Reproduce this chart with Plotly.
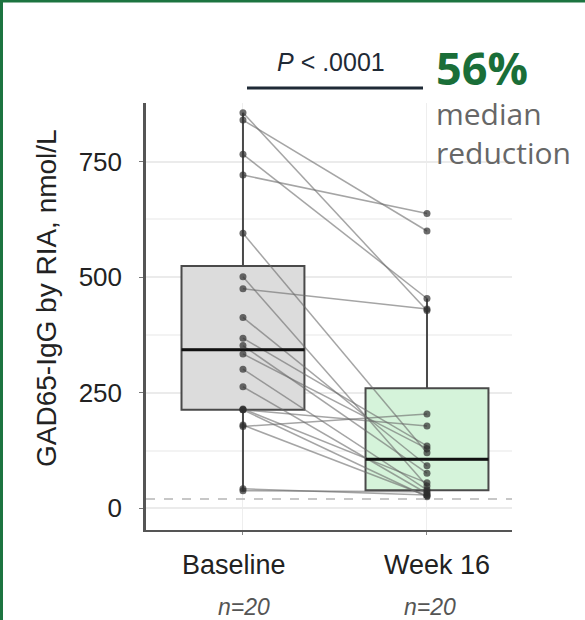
import numpy as np
import plotly.graph_objects as go

# GAD65-IgG (nmol/L) per participant, paired by index
visits = ["Baseline", "Week 16"]
baseline = [856, 840, 766, 721, 595, 501, 475, 413, 368, 352,
            215, 334, 301, 263, 213, 213, 177, 180, 42, 38]
week16 = [428, 600, 454, 638, 120, 48, 431, 92, 135, 76,
          55, 129, 40, 32, 178, 25, 204, 27, 29, 36]
n_labels = ["n=20", "n=20"]
y_ticks = [0, 250, 500, 750]
y_minor = [125, 375, 625]
lower_limit = 20          # assay threshold (dashed line)
p_text = "<i>P</i> < .0001"
headline = "56%"
headline_sub = "median<br>reduction"

W, H = 585, 620
BOX_W = 0.668
box_fills = ["#dcdcdc", "#d5f3da"]


def px(x):
    return x / W


def py(y):
    return 1 - y / H


def box_stats(vals):
    v = np.sort(np.asarray(vals, dtype=float))
    q1, med, q3 = np.percentile(v, [25, 50, 75])
    iqr = q3 - q1
    lf = v[v >= q1 - 1.5 * iqr].min()
    uf = v[v <= q3 + 1.5 * iqr].max()
    return q1, med, q3, lf, uf


fig = go.Figure()

# boxes
for i, vals in enumerate([baseline, week16]):
    q1, med, q3, lf, uf = box_stats(vals)
    fig.add_trace(go.Box(
        x=[i], q1=[q1], median=[med], q3=[q3], lowerfence=[lf], upperfence=[uf],
        width=BOX_W, whiskerwidth=0, fillcolor=box_fills[i], boxpoints=False,
        line=dict(color="#4a4a4a", width=2), hoverinfo="skip", showlegend=False,
    ))

# paired lines per participant
lx, ly = [], []
for b, w in zip(baseline, week16):
    lx += [0, 1, None]
    ly += [b, w, None]
fig.add_trace(go.Scatter(x=lx, y=ly, mode="lines",
                         line=dict(color="rgba(105,105,105,0.6)", width=1.5),
                         hoverinfo="skip", showlegend=False))

# median bars on top
for i, vals in enumerate([baseline, week16]):
    med = box_stats(vals)[1]
    fig.add_trace(go.Scatter(x=[i - BOX_W / 2, i + BOX_W / 2], y=[med, med], mode="lines",
                             line=dict(color="#111111", width=3),
                             hoverinfo="skip", showlegend=False))

# individual points
fig.add_trace(go.Scatter(
    x=[0] * len(baseline) + [1] * len(week16), y=baseline + week16, mode="markers",
    marker=dict(color="rgba(45,45,45,0.7)", size=7),
    hoverinfo="skip", showlegend=False))

fig.add_shape(type="line", xref="x domain", yref="y", x0=0, x1=1,
              y0=lower_limit, y1=lower_limit,
              line=dict(color="#b5b5b5", width=1.5, dash="dash"))

# significance bar
fig.add_shape(type="line", xref="paper", yref="paper",
              x0=px(247), x1=px(423), y0=py(88), y1=py(88),
              line=dict(color="#1f2a36", width=3))

# outer frame (top and left)
fig.add_shape(type="line", xref="paper", yref="paper", x0=0, x1=1, y0=py(1), y1=py(1),
              line=dict(color="#1c7440", width=3))
fig.add_shape(type="line", xref="paper", yref="paper", x0=px(1.5), x1=px(1.5), y0=0, y1=1,
              line=dict(color="#1c7440", width=3))

ann = []
ann.append(dict(text=p_text, x=px(331), y=py(62), xref="paper", yref="paper",
                xanchor="center", yanchor="middle", showarrow=False,
                font=dict(family="Liberation Sans", size=25, color="#1f2a36")))
ann.append(dict(text=f"<b>{headline}</b>", x=px(434), y=py(67), xref="paper", yref="paper",
                xanchor="left", yanchor="middle", showarrow=False, height=46,
                font=dict(family="Open Sans", size=45, color="#1a6e38")))
ann.append(dict(text=headline_sub, x=px(434), y=py(133), xref="paper", yref="paper",
                xanchor="left", yanchor="middle", align="left", showarrow=False,
                font=dict(family="Open Sans", size=30, color="#676767")))
ann.append(dict(text="GAD65-IgG by RIA, nmol/L", x=px(46), y=py(298), xref="paper", yref="paper",
                xanchor="center", yanchor="middle", textangle=-90, showarrow=False,
                font=dict(family="Liberation Sans", size=28, color="#222222")))
for i, (lab, nl) in enumerate(zip(visits, n_labels)):
    shift = -9 if i == 0 else 10
    ann.append(dict(text=lab, x=i, y=py(565), xref="x", yref="paper", xshift=shift,
                    xanchor="center", yanchor="middle", showarrow=False,
                    font=dict(family="Liberation Sans", size=27, color="#222222")))
    ann.append(dict(text=f"<i>{nl}</i>", x=i, y=py(607), xref="x", yref="paper",
                    xshift=(1 if i == 0 else 3),
                    xanchor="center", yanchor="middle", showarrow=False,
                    font=dict(family="Liberation Sans", size=23, color="#555555")))

fig.update_layout(
    width=W, height=H, margin=dict(l=0, r=0, t=0, b=0),
    paper_bgcolor="white", plot_bgcolor="white",
    annotations=ann,
    xaxis=dict(domain=[px(146), px(512)], range=[-0.527, 1.462],
               tickvals=[0, 1], showticklabels=False, showgrid=True,
               gridcolor="#eeeeee", gridwidth=1, zeroline=False,
               showline=True, linecolor="#555555", linewidth=1.5,
               ticks="outside", ticklen=3, tickcolor="#888888"),
    yaxis=dict(domain=[py(530), py(103)], range=[-47, 877],
               tickvals=y_ticks, showgrid=True, gridcolor="#ebebeb", gridwidth=1.5,
               minor=dict(tickvals=y_minor, showgrid=True, gridcolor="#f3f3f3", ticks=""),
               zeroline=False, showline=True, linecolor="#555555", linewidth=2.5,
               ticks="outside", ticklen=4, tickcolor="#777777", ticklabelstandoff=12,
               tickfont=dict(family="Liberation Sans", size=26, color="#222222")),
)

fig.write_html("out.html")
